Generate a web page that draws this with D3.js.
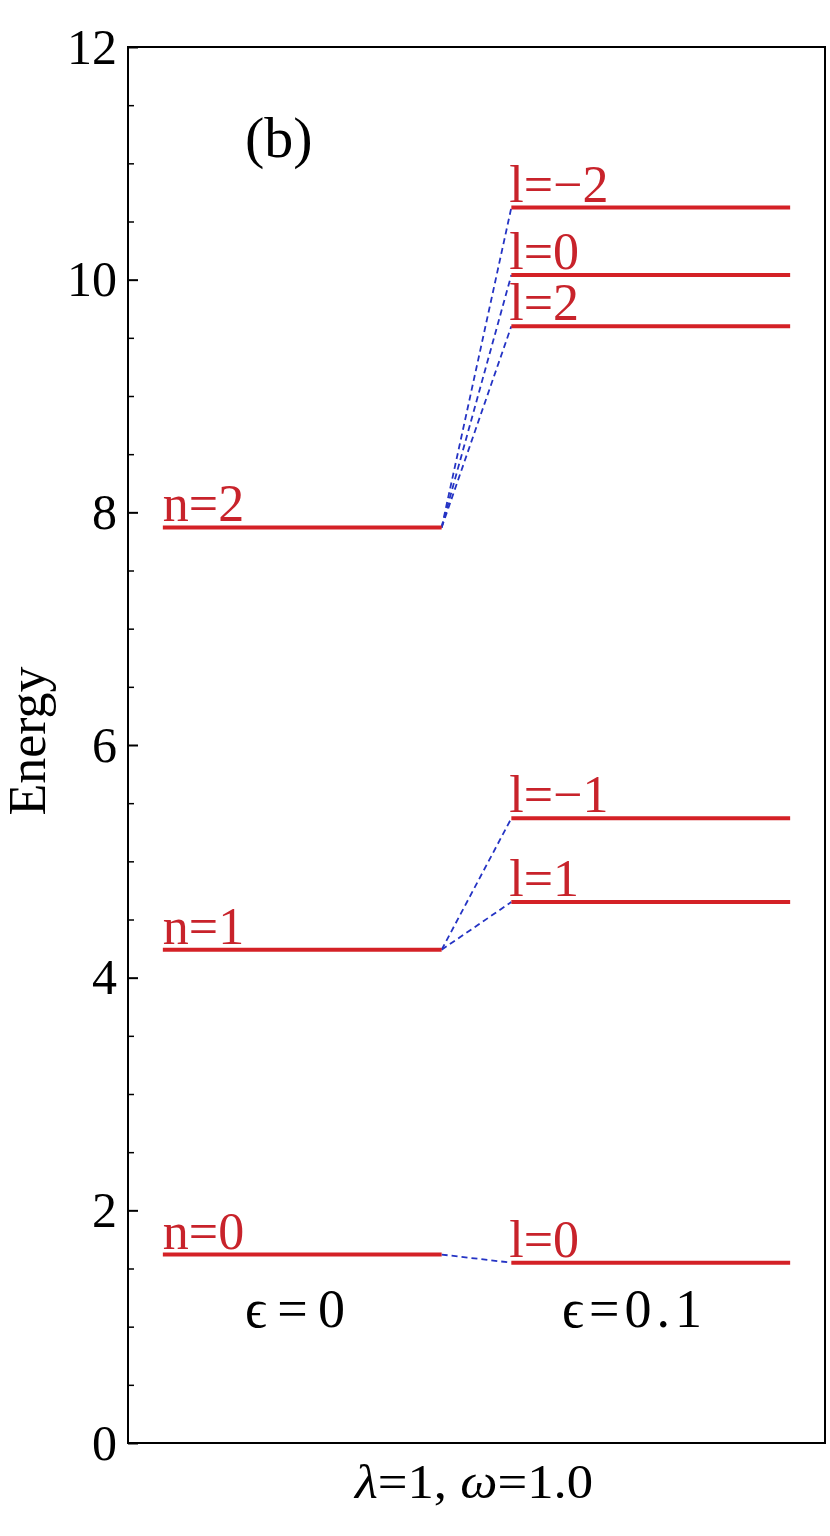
<!DOCTYPE html>
<html>
<head>
<meta charset="utf-8">
<script src="https://d3js.org/d3.v7.min.js"></script>
<style>
body {margin: 0; background: white;}
text {font-family: "Liberation Serif", "Times New Roman", serif;}
.lvl {stroke: #d42126; stroke-width: 4;}
.lbl {fill: #c8232b; font-size: 52px;}
.link {stroke: #2433c4; stroke-width: 1.8; stroke-dasharray: 6,4; fill: none;}
</style>
</head>
<body>
<svg width="830" height="1536"></svg>
<script>
// energies at epsilon = 0
var nLevels = [1.62, 4.24, 7.87];
var nLabels = ["n=0", "n=1", "n=2"];

// energies at epsilon = 0.1, with the n level each one comes from
var lLevels = [1.55, 4.65, 5.37, 9.60, 10.04, 10.62];
var lLabels = ["l=0", "l=1", "l=\u22121", "l=2", "l=0", "l=\u22122"];
var lParent = [0, 1, 1, 2, 2, 2];

var majorTicks = [0, 2, 4, 6, 8, 10, 12];
var minorTicks = d3.range(0.5, 12, 0.5).filter(function(d) { return d % 2 != 0; });

var svg = d3.select("svg");
var pLeft = 128, pRight = 825, pTop = 47, pBottom = 1443;

var x = d3.scaleLinear().domain([0, 1]).range([pLeft, pRight]);
var y = d3.scaleLinear().domain([0, 12]).range([pBottom, pTop]);

// columns for the two cases
var col0 = [0.05, 0.45], col1 = [0.55, 0.95];

// frame
svg.append("rect")
  .attr("x", pLeft).attr("y", pTop)
  .attr("width", pRight - pLeft).attr("height", pBottom - pTop)
  .attr("fill", "none").attr("stroke", "black").attr("stroke-width", 2);

// y axis, ticks pointing inward
var yAxis = svg.append("g")
  .attr("transform", "translate(" + pLeft + ",0)")
  .call(d3.axisLeft(y).tickValues(majorTicks).tickSize(-10).tickPadding(11).tickFormat(d3.format("d")));
yAxis.select(".domain").remove();
yAxis.selectAll("line").attr("stroke-width", 2);
yAxis.selectAll("text")
  .attr("font-size", 50).attr("fill", "black");

var yMinor = svg.append("g")
  .attr("transform", "translate(" + pLeft + ",0)")
  .call(d3.axisLeft(y).tickValues(minorTicks).tickSize(-6).tickFormat(""));
yMinor.select(".domain").remove();
yMinor.selectAll("line").attr("stroke-width", 1.5);

svg.append("text")
  .attr("transform", "translate(45," + 741 + ") rotate(-90)")
  .attr("text-anchor", "middle")
  .attr("font-size", 52)
  .text("Energy");

// dashed connectors
svg.selectAll(".link")
  .data(lLevels)
  .enter().append("line")
  .attr("class", "link")
  .attr("x1", x(col0[1]))
  .attr("y1", function(d, i) { return y(nLevels[lParent[i]]); })
  .attr("x2", x(col1[0]))
  .attr("y2", function(d) { return y(d); });

// levels
svg.selectAll(".lvl0")
  .data(nLevels)
  .enter().append("line")
  .attr("class", "lvl")
  .attr("x1", x(col0[0])).attr("x2", x(col0[1]))
  .attr("y1", function(d) { return y(d); })
  .attr("y2", function(d) { return y(d); });

svg.selectAll(".lvl1")
  .data(lLevels)
  .enter().append("line")
  .attr("class", "lvl")
  .attr("x1", x(col1[0])).attr("x2", x(col1[1]))
  .attr("y1", function(d) { return y(d); })
  .attr("y2", function(d) { return y(d); });

// level labels
svg.selectAll(".lbl0")
  .data(nLevels)
  .enter().append("text")
  .attr("class", "lbl")
  .attr("x", x(col0[0]))
  .attr("y", function(d) { return y(d) - 6; })
  .text(function(d, i) { return nLabels[i]; });

svg.selectAll(".lbl1")
  .data(lLevels)
  .enter().append("text")
  .attr("class", "lbl")
  .attr("x", x(col1[0]) - 2)
  .attr("y", function(d) { return y(d) - 6; })
  .text(function(d, i) { return lLabels[i]; });

// annotations
svg.append("text")
  .attr("x", 245).attr("y", 157)
  .attr("font-size", 58)
  .text("(b)");

svg.append("text")
  .attr("x", 245).attr("y", 1327)
  .attr("font-size", 54)
  .attr("textLength", 100).attr("lengthAdjust", "spacing")
  .text("\u03f5=0");

svg.append("text")
  .attr("x", 562).attr("y", 1327)
  .attr("font-size", 54)
  .attr("textLength", 140).attr("lengthAdjust", "spacing")
  .text("\u03f5=0.1");

var xl = svg.append("text")
  .attr("x", 355).attr("y", 1498)
  .attr("font-size", 48)
  .attr("textLength", 238).attr("lengthAdjust", "spacingAndGlyphs");
xl.append("tspan").attr("font-style", "italic").text("\u03bb");
xl.append("tspan").text("=1, ");
xl.append("tspan").attr("font-style", "italic").text("\u03c9");
xl.append("tspan").text("=1.0");
</script>
</body>
</html>
